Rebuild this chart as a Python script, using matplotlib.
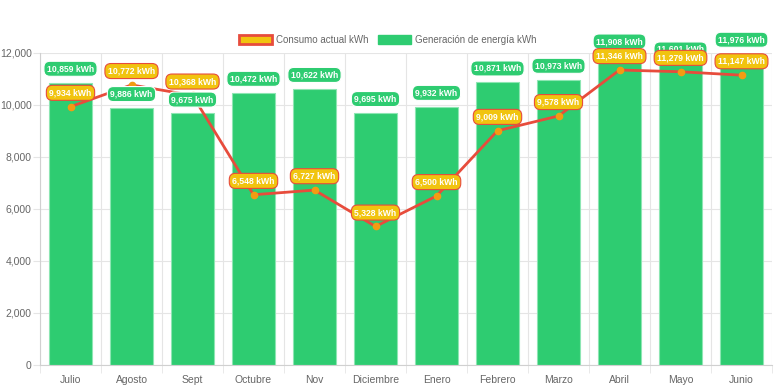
import matplotlib.pyplot as plt
import matplotlib.patches as mpatches
import numpy as np

plt.rcParams['font.family'] = ['Liberation Sans', 'DejaVu Sans']

meses = ['Julio', 'Agosto', 'Sept', 'Octubre', 'Nov', 'Diciembre',
         'Enero', 'Febrero', 'Marzo', 'Abril', 'Mayo', 'Junio']
generacion = [10859, 9886, 9675, 10472, 10622, 9695,
              9932, 10871, 10973, 11908, 11601, 11976]
consumo = [9934, 10772, 10368, 6548, 6727, 5328,
           6500, 9009, 9578, 11346, 11279, 11147]

verde = '#2ecc71'
rojo = '#e74c3c'
amarillo = '#f1c40f'
naranja = '#f39c12'
gris = '#666666'
rejilla = '#e5e5e5'

fig = plt.figure(figsize=(7.76, 3.88), dpi=100)
ax = fig.add_axes([40 / 776, 23 / 388, 732 / 776, 312 / 388])

x = np.arange(len(meses))
ax.bar(x, generacion, width=0.72, color=verde, edgecolor='#8de6b3',
       linewidth=0.8, zorder=2)
ax.plot(x, consumo, color=rojo, linewidth=2, zorder=3,
        marker='o', markersize=4.5, markerfacecolor=naranja,
        markeredgecolor=naranja)

# etiquetas de datos
for i, v in enumerate(generacion):
    ax.annotate(f'{v:,} kWh', (i, v), xytext=(0, 10), textcoords='offset points',
                ha='center', va='center', fontsize=6.2, fontweight='bold', color='white',
                bbox=dict(boxstyle='round,pad=0.35,rounding_size=0.7', fc=verde, ec='white', lw=0.8),
                zorder=5)
for i, v in enumerate(consumo):
    ax.annotate(f'{v:,} kWh', (i, v), xytext=(0, 10), textcoords='offset points',
                ha='center', va='center', fontsize=6.2, fontweight='bold', color='white',
                bbox=dict(boxstyle='round,pad=0.35,rounding_size=0.7', fc=amarillo, ec=rojo, lw=0.8),
                zorder=6)

ax.set_xlim(-0.5, len(meses) - 0.5)
ax.set_ylim(0, 12000)
ax.set_yticks(range(0, 12001, 2000))
ax.set_yticklabels([f'{t:,}' for t in range(0, 12001, 2000)])
ax.set_xticks(x)
ax.set_xticklabels(meses, va='baseline')
ax.set_xticks(np.arange(-0.5, len(meses), 1), minor=True)

ax.grid(axis='y', color=rejilla, linewidth=0.8, zorder=0)
ax.grid(axis='x', which='minor', color=rejilla, linewidth=0.8, zorder=0)
ax.tick_params(axis='x', which='major', length=0, pad=13, labelsize=7.5, colors=gris)
ax.tick_params(axis='x', which='minor', length=6, color=rejilla)
ax.tick_params(axis='y', length=5, color=rejilla, labelsize=7.5, labelcolor=gris, pad=1)
for s in ['top', 'right']:
    ax.spines[s].set_visible(False)
for s in ['left', 'bottom']:
    ax.spines[s].set_color('#d0d0d0')

h = [mpatches.Patch(fc=amarillo, ec=rojo, lw=2), mpatches.Patch(fc=verde, ec=verde)]
l = ['Consumo actual kWh', 'Generación de energía kWh']
fig.legend(h, l, loc='center', bbox_to_anchor=(0.5, 1 - 40 / 388), ncol=2,
           frameon=False, fontsize=7, labelcolor=gris, handlelength=3.4,
           handleheight=1.0, columnspacing=1.0, handletextpad=0.4)

fig.savefig('out.png', dpi=100)
